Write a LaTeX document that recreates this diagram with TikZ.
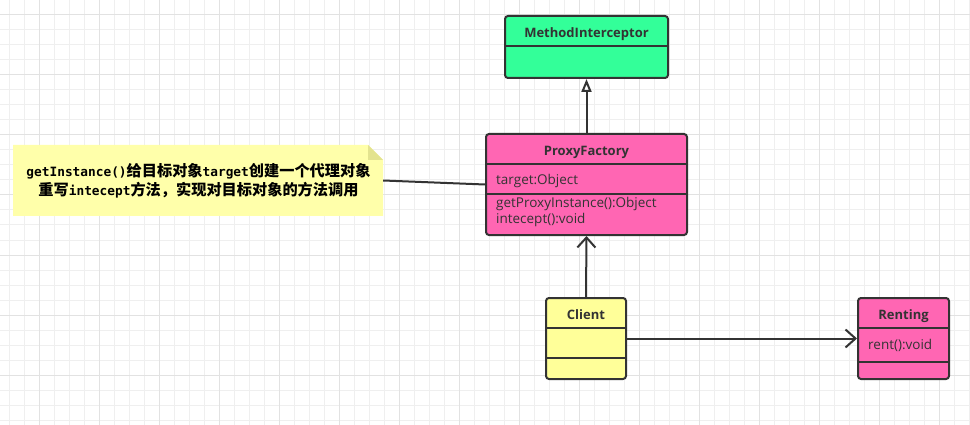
\documentclass[tikz,border=0pt]{standalone}
\usepackage{fontspec}
\setmainfont{Open Sans}
\newfontfamily\cjkfont{Noto Sans CJK SC}
\newfontfamily\monofont{DejaVu Sans Mono}
\usetikzlibrary{arrows.meta}
\definecolor{gridminor}{HTML}{EFEFEF}
\definecolor{gridmajor}{HTML}{E2E2E2}
\definecolor{umlline}{HTML}{333333}
\definecolor{umltext}{HTML}{333333}
\definecolor{migreen}{HTML}{33FF99}
\definecolor{pfpink}{HTML}{FF66B3}
\definecolor{clyellow}{HTML}{FFFF99}
\definecolor{noteyellow}{HTML}{FFFFAA}
\definecolor{notefold}{HTML}{E3E38F}
\newcommand{\cj}[1]{{\cjkfont\bfseries\fontsize{15.2}{18.5}\selectfont #1}}
\newcommand{\mn}[1]{{\monofont\bfseries\fontsize{12.8}{18.5}\selectfont #1}}
\begin{document}
\begin{tikzpicture}[x=1pt,y=-1pt,
  classbox/.style={draw=umlline, line width=2pt, rounded corners=3pt, inner sep=0pt},
  divider/.style={draw=umlline, line width=2pt},
  titletext/.style={font=\bfseries\fontsize{13}{16}\selectfont, text=umltext, inner sep=0pt, anchor=base},
  attrtext/.style={font=\fontsize{13.5}{16}\selectfont, text=umltext, inner sep=0pt, anchor=base west},
  conn/.style={draw=umlline, line width=2pt},
  vhead/.style={-{Straight Barb[length=10pt,width=18pt,line width=2pt]}},
  trihead/.style={-{Triangle[open,length=13pt,width=10pt,line width=2pt,fill=white]}}
]
\useasboundingbox (0,0) rectangle (970,425);
\fill[white] (0,0) rectangle (970,425);
% grid
\foreach \x in {9.5,24.5,...,970} \draw[gridminor, line width=1pt] (\x,0) -- (\x,425);
\foreach \y in {0,15,...,425} \draw[gridminor, line width=1pt] (0,\y) -- (970,\y);
\foreach \x in {39.5,99.5,...,970} \draw[gridmajor, line width=1pt] (\x,0) -- (\x,425);
\foreach \y in {15,75,...,425} \draw[gridmajor, line width=1pt] (0,\y) -- (970,\y);

% MethodInterceptor
\node[classbox, fill=migreen, minimum width=163pt, minimum height=62pt] (mi) at (586.5,47) {};
\draw[divider] (505,46) -- (668,46);
\node[titletext] (mititle) at (586.5,37.3) {MethodInterceptor};

% ProxyFactory
\node[classbox, fill=pfpink, minimum width=201pt, minimum height=101pt] (pf) at (586.5,184.5) {};
\draw[divider] (486,164) -- (687,164);
\draw[divider] (486,194) -- (687,194);
\node[titletext] (pftitle) at (586.5,155.3) {ProxyFactory};
\node[attrtext] (pfa1) at (496,185) {target:Object};
\node[attrtext] (pfm1) at (496,207.7) {getProxyInstance():Object};
\node[attrtext] (pfm2) at (496,223.5) {intecept():void};

% Client
\node[classbox, fill=clyellow, minimum width=80pt, minimum height=81pt] (cl) at (586,338.5) {};
\draw[divider] (546,328) -- (626,328);
\draw[divider] (546,358) -- (626,358);
\node[titletext] (cltitle) at (586,319) {Client};

% Renting
\node[classbox, fill=pfpink, minimum width=91pt, minimum height=81pt] (re) at (903.5,338.5) {};
\draw[divider] (858,328) -- (949,328);
\draw[divider] (858,362) -- (949,362);
\node[titletext] (retitle) at (903.5,319) {Renting};
\node[attrtext] (rem1) at (868,349.5) {rent():void};

% Note
\node[minimum width=370pt, minimum height=71pt, inner sep=0pt] (note) at (198,180.5) {};
\fill[noteyellow] (13,145) -- (368,145) -- (383,160) -- (383,216) -- (13,216) -- cycle;
\fill[notefold] (368,145) -- (383,160) -- (368,160) -- cycle;
\node[align=center, inner sep=0pt, text=black, anchor=base, font=\fontsize{12.8}{18.5}\selectfont] (notetext) at (198.5,195.5)
  {\mn{getInstance()}\cj{给目标对象}\mn{target}\cj{创建一个代理对象}\\
   \cj{重写}\mn{intecept}\cj{方法，实现对目标对象的方法调用}};

% connectors
\draw[conn, trihead] (pf.north) -- (mi.south);
\draw[conn, vhead] (cl.north) -- (pf.south);
\draw[conn, vhead] (cl.east) -- (re.west);
\draw[conn] (note.east) -- (pf.west);
\end{tikzpicture}
\end{document}
